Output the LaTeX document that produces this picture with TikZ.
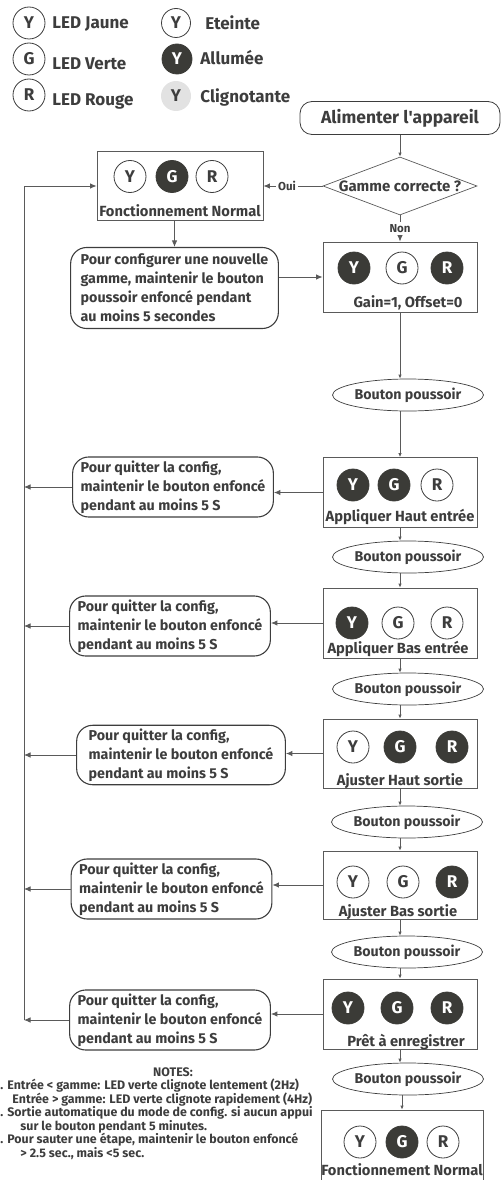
\documentclass[tikz,border=0pt]{standalone}
\usepackage{fontspec}
\setmainfont{Fira Sans}
\usetikzlibrary{arrows.meta,shapes}
\usetikzlibrary{positioning}
\definecolor{ink}{HTML}{3D3D3D}
\definecolor{wire}{HTML}{5A5A5A}
\definecolor{ledfill}{HTML}{3B3B37}
\definecolor{blink}{HTML}{E2E2E2}
\tikzset{
	stateBox/.style={
		rectangle,
		draw=wire,
		line width=0.8pt,
		minimum width=154pt,
		minimum height=70pt,
	},
	quitBox/.style={
		rectangle,
		rounded corners=16pt,
		draw=ink,
		line width=1.1pt,
		minimum height=60pt,
		inner xsep=8pt,
		align=left,
		text=ink,
		font=\fontsize{14.3}{19}\selectfont\bfseries,
	},
	pushBtn/.style={
		ellipse,
		draw=ink,
		line width=0.7pt,
		minimum width=128pt,
		minimum height=32pt,
		inner sep=0pt,
		text=ink,
		font=\fontsize{14.2}{15}\selectfont\bfseries,
	},
	ledOff/.style={
		circle,
		draw=ink,
		line width=0.8pt,
		minimum size=32pt,
		inner sep=0pt,
		text=ink,
		font=\fontsize{17}{17}\selectfont\bfseries,
	},
	ledOn/.style={ledOff, fill=ledfill, draw=ledfill, text=white},
	ledBlink/.style={ledOff, fill=blink, draw=none},
	boxTitle/.style={text=ink, inner sep=0pt, font=\fontsize{14.7}{16}\selectfont\bfseries},
	legendText/.style={text=ink, anchor=west, inner sep=0pt, font=\fontsize{17}{19}\selectfont\bfseries},
	lbl/.style={fill=white, text=ink, inner sep=2pt, font=\fontsize{11.5}{12}\selectfont\bfseries},
	smallTip/.style={-{Latex[length=4pt,width=3.5pt]}},
}

\begin{document}
\begin{tikzpicture}[x=1pt, y=-1pt, draw=wire, line width=0.9pt, >={Latex[length=6.5pt,width=5.5pt]}]
	
	\useasboundingbox (0,0) rectangle (502,1180);
	
	% legend
	\node[ledOff] (LEG-Y) at (29,23) {Y};
	\node[ledOff] (LEG-G) at (29,59) {G};
	\node[ledOff] (LEG-R) at (29,95) {R};
	\node[legendText] at (52,24) {LED Jaune};
	\node[legendText] at (52,64) {LED Verte};
	\node[legendText] at (52,101) {LED Rouge};
	\node[ledOff, minimum size=29pt] (LEG-OFF) at (176,23) {Y};
	\node[ledOn, minimum size=30pt] (LEG-ON) at (177,59) {Y};
	\node[ledBlink, minimum size=30pt] (LEG-BLINK) at (176,96) {Y};
	\node[legendText] at (205,23) {Eteinte};
	\node[legendText] at (200,58) {Allumée};
	\node[legendText] at (200,97) {Clignotante};
	
	% right column
	\node[rectangle, rounded corners=12pt, draw=ink, line width=0.8pt,
	minimum width=200pt, minimum height=33pt, text=ink,
	font=\fontsize{17.5}{18}\selectfont\bfseries] (POWER) at (400,118)
	{Alimenter l\textquotesingle appareil};
	
	\node[diamond, draw=wire, line width=0.7pt, aspect=2.65, inner sep=0pt,
	minimum width=154pt, minimum height=58pt, text=ink,
	font=\fontsize{15}{16}\selectfont\bfseries,
	below=68pt of POWER.center, anchor=center] (CHECK)
	{Gamme correcte ?};
	
	\node[stateBox,
	below=91pt of CHECK.center, anchor=center] (DEFAULT) {};
	
	\node[pushBtn,
	below right=118pt and 8pt of DEFAULT.center, anchor=center] (BTN1) {Bouton poussoir};
	
	\node[stateBox,
	below left=97.5pt and 8pt of BTN1.center, anchor=center] (HIGHIN) {};
	
	\node[pushBtn,
	below right=64.5pt and 8pt of HIGHIN.center, anchor=center] (BTN2) {Bouton poussoir};
	
	\node[stateBox,
	below left=66pt and 8pt of BTN2.center, anchor=center] (LOWIN) {};
	
	\node[pushBtn,
	below right=66pt and 8pt of LOWIN.center, anchor=center] (BTN3) {Bouton poussoir};
	
	\node[stateBox, minimum height=69pt,
	below left=64.5pt and 8pt of BTN3.center, anchor=center] (HIGHOUT) {};
	
	\node[pushBtn,
	below right=68.5pt and 7pt of HIGHOUT.center, anchor=center] (BTN4) {Bouton poussoir};
	
	\node[stateBox, minimum height=68pt,
	below left=63pt and 7pt of BTN4.center, anchor=center] (LOWOUT) {};
	
	\node[pushBtn,
	below right=67pt and 7pt of LOWOUT.center, anchor=center] (BTN5) {Bouton poussoir};
	
	\node[stateBox,
	below left=62pt and 7pt of BTN5.center, anchor=center] (READY) {};
	
	\node[pushBtn,
	below right=65pt and 8pt of READY.center, anchor=center] (BTN6) {Bouton poussoir};
	
	\node[stateBox, minimum width=162pt, minimum height=75pt,
	below left=68.5pt and 6pt of BTN6.center, anchor=center] (FINAL) {};
	
	% left column
	\node[stateBox, minimum width=166pt, minimum height=69pt,
	left=220pt of CHECK.center, anchor=center] (NORMAL) {};
	
	\node[quitBox, minimum height=81pt, inner xsep=10pt,
	below left=102pt and 5.5pt of NORMAL.center, anchor=center] (CONFIG)
	{Pour configurer une nouvelle\\gamme, maintenir le bouton\\poussoir enfoncé pendant\\au moins 5 secondes};
	
	\node[quitBox,
	above left=5.5pt and 227pt of HIGHIN.center, anchor=center] (QUIT1)
	{Pour quitter la config,\\maintenir le bouton enfoncé\\pendant au moins 5 S};
	
	\node[quitBox,
	below left=3pt and 230pt of LOWIN.center, anchor=center] (QUIT2)
	{Pour quitter la config,\\maintenir le bouton enfoncé\\pendant au moins 5 S};
	
	\node[quitBox, minimum height=58pt, inner xsep=12pt,
	below left=1.5pt and 219pt of HIGHOUT.center, anchor=center] (QUIT3)
	{Pour quitter la config,\\maintenir le bouton enfoncé\\pendant au moins 5 S};
	
	\node[quitBox,
	below left=4pt and 228.5pt of LOWOUT.center, anchor=center] (QUIT4)
	{Pour quitter la config,\\maintenir le bouton enfoncé\\pendant au moins 5 S};
	
	\node[quitBox,
	below left=6pt and 230pt of READY.center, anchor=center] (QUIT5)
	{Pour quitter la config,\\maintenir le bouton enfoncé\\pendant au moins 5 S};
	
	% LEDs and titles in the boxes
	\node[ledOff] (NORMAL-Y) at ([xshift=-50pt,yshift=9.5pt]NORMAL.center) {Y};
	\node[ledOn]  (NORMAL-G) at ([xshift=-8pt,yshift=9.5pt]NORMAL.center) {G};
	\node[ledOff] (NORMAL-R) at ([xshift=32pt,yshift=9.5pt]NORMAL.center) {R};
	\node[boxTitle] at ([yshift=-24.5pt]NORMAL.center) {Fonctionnement Normal};
	
	\node[ledOn]  (DEFAULT-Y) at ([xshift=-46pt,yshift=9pt]DEFAULT.center) {Y};
	\node[ledOff] (DEFAULT-G) at ([xshift=2pt,yshift=9pt]DEFAULT.center) {G};
	\node[ledOn]  (DEFAULT-R) at ([xshift=47pt,yshift=9pt]DEFAULT.center) {R};
	\node[boxTitle] at ([xshift=8pt,yshift=-26pt]DEFAULT.center) {Gain=1, Offset=0};
	
	\node[ledOn]  (HIGHIN-Y) at ([xshift=-47pt,yshift=7.5pt]HIGHIN.center) {Y};
	\node[ledOn]  (HIGHIN-G) at ([xshift=-6pt,yshift=7.5pt]HIGHIN.center) {G};
	\node[ledOff] (HIGHIN-R) at ([xshift=37pt,yshift=7.5pt]HIGHIN.center) {R};
	\node[boxTitle] at ([yshift=-24.5pt]HIGHIN.center) {Appliquer Haut entrée};
	
	\node[ledOn]  (LOWIN-Y) at ([xshift=-48pt]LOWIN.center) {Y};
	\node[ledOff] (LOWIN-G) at ([xshift=-2pt]LOWIN.center) {G};
	\node[ledOff] (LOWIN-R) at ([xshift=47pt]LOWIN.center) {R};
	\node[boxTitle] at ([xshift=-2pt,yshift=-26pt]LOWIN.center) {Appliquer Bas entrée};
	
	\node[ledOff] (HIGHOUT-Y) at ([xshift=-47pt,yshift=6.5pt]HIGHOUT.center) {Y};
	\node[ledOn]  (HIGHOUT-G) at ([yshift=6.5pt]HIGHOUT.center) {G};
	\node[ledOn]  (HIGHOUT-R) at ([xshift=52pt,yshift=6.5pt]HIGHOUT.center) {R};
	\node[boxTitle] at ([yshift=-27.5pt]HIGHOUT.center) {Ajuster Haut sortie};
	
	\node[ledOff] (LOWOUT-Y) at ([xshift=-47pt,yshift=3pt]LOWOUT.center) {Y};
	\node[ledOff] (LOWOUT-G) at ([xshift=3pt,yshift=3pt]LOWOUT.center) {G};
	\node[ledOn]  (LOWOUT-R) at ([xshift=52pt,yshift=3pt]LOWOUT.center) {R};
	\node[boxTitle] at ([xshift=-2pt,yshift=-27pt]LOWOUT.center) {Ajuster Bas sortie};
	
	\node[ledOn] (READY-Y) at ([xshift=-52pt,yshift=6pt]READY.center) {Y};
	\node[ledOn] (READY-G) at ([xshift=-3pt,yshift=6pt]READY.center) {G};
	\node[ledOn] (READY-R) at ([xshift=47pt,yshift=6pt]READY.center) {R};
	\node[boxTitle] at ([xshift=6pt,yshift=-28pt]READY.center) {Prêt à enregistrer};
	
	\node[ledOff] (FINAL-Y) at ([xshift=-42pt,yshift=5.5pt]FINAL.center) {Y};
	\node[ledOn]  (FINAL-G) at ([yshift=5.5pt]FINAL.center) {G};
	\node[ledOff] (FINAL-R) at ([xshift=41pt,yshift=5.5pt]FINAL.center) {R};
	\node[boxTitle] at ([yshift=-22.5pt]FINAL.center) {Fonctionnement Normal};
	
	% notes
	\node[text=ink, font=\fontsize{12.4}{13.4}\selectfont\bfseries] (NOTES) at (173,1072) {NOTES:};
	\node[text=ink, anchor=north west, inner sep=0pt, align=left,
	font=\fontsize{12.4}{13.4}\selectfont\bfseries] (NOTELIST) at (0,1078)
	{. Entrée < gamme: LED verte clignote lentement (2Hz)\\
		\hspace*{12pt}Entrée > gamme: LED verte clignote rapidement (4Hz)\\
		. Sortie automatique du mode de config. si aucun appui\\
		\hspace*{20pt}sur le bouton pendant 5 minutes.\\
		. Pour sauter une étape, maintenir le bouton enfoncé\\
		\hspace*{20pt}> 2.5 sec., mais <5 sec.};
	
	\coordinate (RAIL) at (24,0);
	
	% connectors
	\draw[smallTip] (POWER) -- (CHECK);
	\draw[->] (CHECK.west) -- node[lbl, pos=0.6]{Oui} (CHECK.west -| NORMAL.east);
	\draw[->] (CHECK) -- node[lbl]{Non} (DEFAULT);
	\draw[->] (NORMAL.south -| CONFIG.north) -- (CONFIG.north);
	\draw[->] (CONFIG.east |- DEFAULT.west) -- (DEFAULT.west);
	
	\draw[smallTip] (DEFAULT.south) -- (DEFAULT.south |- BTN1.north);
	\draw[smallTip] (BTN1.south -| HIGHIN.north) -- (HIGHIN.north);
	\draw[smallTip] (HIGHIN.south) -- (HIGHIN.south |- BTN2.north);
	\draw[smallTip] (BTN2.south -| LOWIN.north) -- (LOWIN.north);
	\draw[smallTip] (LOWIN.south) -- (LOWIN.south |- BTN3.north);
	\draw[smallTip] (BTN3.south -| HIGHOUT.north) -- (HIGHOUT.north);
	\draw[smallTip] (HIGHOUT.south) -- (HIGHOUT.south |- BTN4.north);
	\draw[smallTip] (BTN4.south -| LOWOUT.north) -- (LOWOUT.north);
	\draw[smallTip] (LOWOUT.south) -- (LOWOUT.south |- BTN5.north);
	\draw[smallTip] (BTN5.south -| READY.north) -- (READY.north);
	\draw[smallTip] (READY.south) -- (READY.south |- BTN6.north);
	\draw[smallTip] (BTN6.south -| FINAL.north) -- (FINAL.north);
	
	\draw[->] (HIGHIN.west) -- (HIGHIN.west -| QUIT1.east);
	\draw[->] (LOWIN.west) -- (LOWIN.west -| QUIT2.east);
	\draw[->] (HIGHOUT.west) -- (HIGHOUT.west -| QUIT3.east);
	\draw[->] (LOWOUT.west) -- (LOWOUT.west -| QUIT4.east);
	\draw[->] (READY.west) -- (READY.west -| QUIT5.east);
	
	\draw[->] (QUIT1.west) -- (QUIT1.west -| RAIL);
	\draw[->] (QUIT2.west) -- (QUIT2.west -| RAIL);
	\draw[->] (QUIT3.west) -- (QUIT3.west -| RAIL);
	\draw[->] (QUIT4.west) -- (QUIT4.west -| RAIL);
	\draw[->] (QUIT5.west) -- (QUIT5.west -| RAIL);
	\draw[->] (QUIT5.west -| RAIL) |- (NORMAL.west);
	
\end{tikzpicture}
\end{document}
